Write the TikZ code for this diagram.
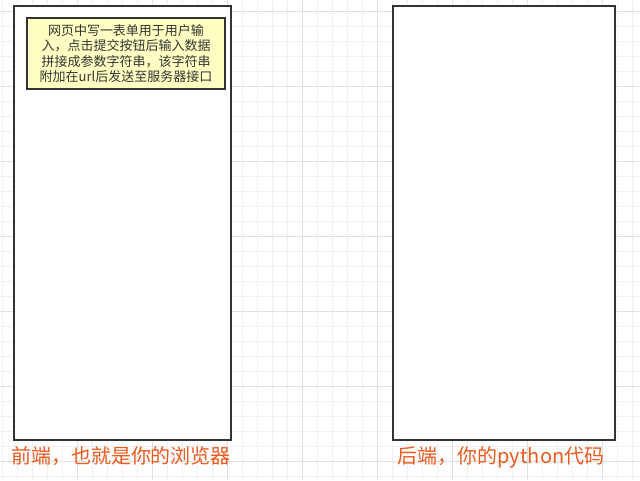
\documentclass[tikz,border=0pt]{standalone}
\usepackage{fontspec}
\setmainfont{Noto Sans CJK SC}
\usetikzlibrary{positioning}
\definecolor{gridline}{HTML}{F0F0F0}
\definecolor{gridmajor}{HTML}{E0E0E0}
\definecolor{edge}{HTML}{333333}
\definecolor{notefill}{HTML}{FFFFC4}
\definecolor{labelred}{HTML}{EB5A1E}

\begin{document}
\begin{tikzpicture}[
    x=1pt, y=-1pt,
    every node/.style={inner sep=0pt, outer sep=0pt},
    panel/.style={draw=edge, line width=1.5pt, fill=white},
    note/.style={draw=edge, line width=1.5pt, fill=notefill, text=edge,
        align=center, font=\fontsize{13}{15.5}\selectfont},
    caption/.style={text=labelred, font=\fontsize{20}{22}\selectfont}
]

% Fond quadrillé
\useasboundingbox (0,0) rectangle (640,480);
\fill[white] (0,0) rectangle (640,480);
\foreach \x in {2,17,...,632} \draw[gridline, line width=0.8pt] (\x,0) -- (\x,480);
\foreach \y in {11,26,...,476} \draw[gridline, line width=0.8pt] (0,\y) -- (640,\y);
\foreach \x in {77,152,...,632} \draw[gridmajor, line width=0.8pt] (\x,0) -- (\x,480);
\foreach \y in {11,86,...,476} \draw[gridmajor, line width=0.8pt] (0,\y) -- (640,\y);

% Panneaux
\node[panel, minimum width=217pt, minimum height=434pt] (front) at (122.5,223) {};
\node[panel, minimum width=222pt, minimum height=434pt] (back) at (504,223) {};

% Note
\node[note, minimum width=198pt, minimum height=71pt] (form) at (126,53.5)
    {网页中写一表单用于用户输\\
    入，点击提交按钮后输入数据\\
    拼接成参数字符串，该字符串\\
    附加在url后发送至服务器接口};

% Légendes
\node[caption, below=6.5pt of front, xshift=-1.5pt] (frontlabel) {前端，也就是你的浏览器};
\node[caption, below=6.5pt of back, xshift=-3pt] (backlabel) {后端，你的python代码};

\end{tikzpicture}
\end{document}
